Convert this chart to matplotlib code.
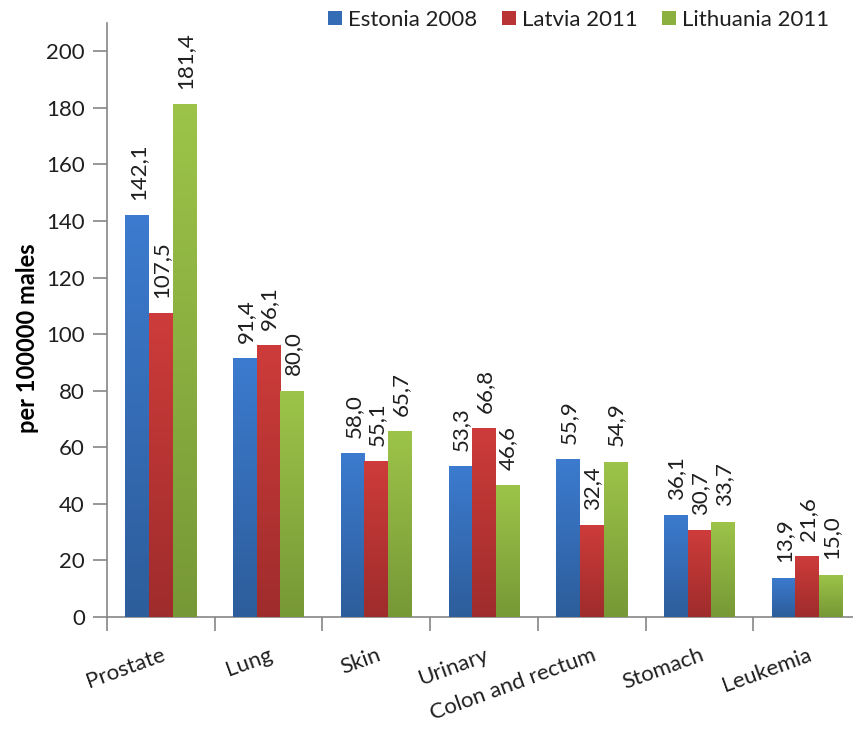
import matplotlib
matplotlib.use("Agg")
import matplotlib.pyplot as plt
import numpy as np
from matplotlib.patches import Patch
from matplotlib.colors import LinearSegmentedColormap

categories = ["Prostate", "Lung", "Skin", "Urinary", "Colon and rectum", "Stomach", "Leukemia"]
series_names = ["Estonia 2008", "Latvia 2011", "Lithuania 2011"]
estonia = [142.1, 91.4, 58.0, 53.3, 55.9, 36.1, 13.9]
latvia = [107.5, 96.1, 55.1, 66.8, 32.4, 30.7, 21.6]
lithuania = [181.4, 80.0, 65.7, 46.6, 54.9, 33.7, 15.0]
series_values = [estonia, latvia, lithuania]
y_ticks = [0, 20, 40, 60, 80, 100, 120, 140, 160, 180, 200]

top_colors = ["#3c7bcf", "#cd3c3a", "#9dc449"]
bot_colors = ["#2d5d9b", "#9f2c2c", "#779836"]
mid_colors = ["#356cb6", "#b93434", "#8bb03f"]

plt.rcParams['font.family'] = ['Lato', 'DejaVu Sans']
FS = 16
TXT = "#1f1f1f"

fig = plt.figure(figsize=(8.54, 7.32), dpi=100)
ax = fig.add_axes([107/854, 1-617/732, 754/854, (617-23)/732])

x = np.arange(len(categories))
bw = 0.219
offsets = [-bw, 0, bw]
grad = np.linspace(1, 0, 256).reshape(-1, 1)

for i, vals in enumerate(series_values):
    bars = ax.bar(x + offsets[i], vals, width=bw, color=mid_colors[i], linewidth=0, zorder=2)
    cmap = LinearSegmentedColormap.from_list(f"g{i}", [bot_colors[i], top_colors[i]])
    for b, v in zip(bars, vals):
        x0 = b.get_x()
        im = ax.imshow(grad, extent=[x0, x0 + b.get_width(), 0, v], aspect='auto',
                       cmap=cmap, origin='upper', zorder=3, interpolation='bicubic')
        im.set_clip_path(b)
        ax.annotate(f"{v:.1f}".replace('.', ','), xy=(x0 + b.get_width()/2, v),
                    xytext=(0.5, 11), textcoords='offset points', rotation=90,
                    ha='center', va='bottom', fontsize=FS, color=TXT, zorder=4)

ax.set_xlim(-0.5, len(categories) - 0.5)
ax.set_ylim(0, 210)
ax.set_yticks(y_ticks)
ax.set_yticklabels([str(t) for t in y_ticks], fontsize=FS, color=TXT)
ax.set_xticks(x)
ax.set_xticklabels(categories, fontsize=FS, color=TXT, rotation=20, ha='right',
                   rotation_mode='anchor')
ax.set_xticks(np.arange(len(categories) + 1) - 0.5, minor=True)
ax.tick_params(axis='x', which='major', length=0, pad=20)
ax.tick_params(axis='x', which='minor', length=10, color='#868686', width=1.2)
ax.tick_params(axis='y', length=10, color='#868686', width=1.2, pad=6)

for s in ['top', 'right']:
    ax.spines[s].set_visible(False)
for s in ['left', 'bottom']:
    ax.spines[s].set_color('#868686')
    ax.spines[s].set_linewidth(1.2)

fig.text(28/854, 1-338/732, "per 100000 males", rotation=90, ha='center', va='center',
         fontsize=17, fontweight='bold', color='black')

handles = [Patch(facecolor=mid_colors[i], edgecolor='none') for i in range(3)]
fig.legend(handles, series_names, loc='center', bbox_to_anchor=(579/854, 1-20/732),
           ncol=3, frameon=False, fontsize=FS, handlelength=0.6, handleheight=0.6,
           handletextpad=0.3, columnspacing=1.1, labelcolor=TXT)

fig.savefig("out.png", dpi=100)
